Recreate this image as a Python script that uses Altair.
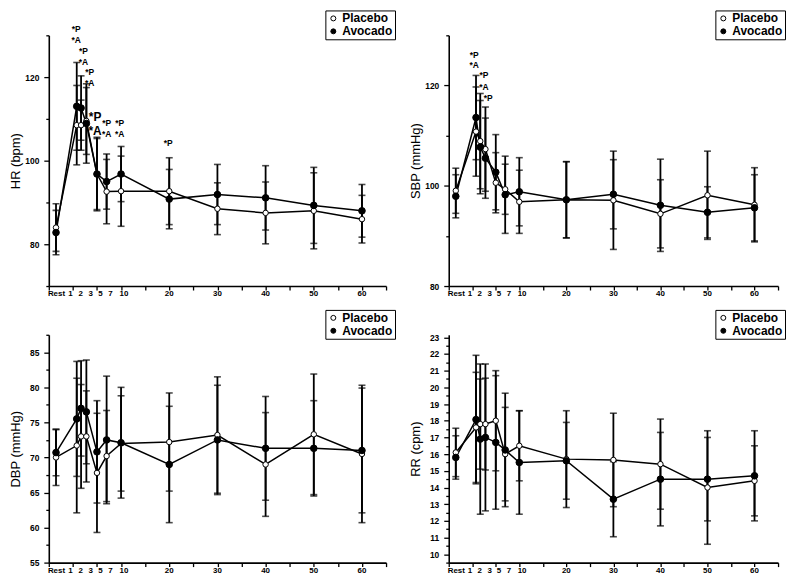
import altair as alt
import pandas as pd

FONT = "Liberation Sans"

# time points (minutes) and the x position used for each
time_labels = ["Rest", "1", "2", "3", "5", "7", "10", "20", "30", "40", "50", "60"]
time_x = [-3.5, 0.8, 1.7, 2.8, 5, 7, 10, 20, 30, 40, 50, 60]
tick_label_x = [-3.4, -0.5, 1.6, 3.7, 5.7, 7.8, 10.6, 20, 30, 40, 50, 60]

# HR (bpm)
hr_p = [84.0, 108.5, 108.5, 109.5, 96.8, 92.6, 92.7, 92.7, 88.5, 87.5, 88.0, 86.0]
hr_p_sd = [5.7, 9.5, 6.0, 8.0, 8.5, 7.7, 8.4, 8.0, 6.2, 7.4, 9.1, 5.7]
hr_a = [82.8, 113.0, 112.6, 108.9, 96.8, 95.0, 96.8, 90.8, 91.9, 91.1, 89.3, 88.0]
hr_a_sd = [5.3, 10.5, 7.7, 9.5, 8.8, 6.6, 6.6, 7.1, 7.2, 7.7, 9.1, 6.3]

# SBP (mmHg)
sbp_p = [99.0, 110.8, 108.9, 107.3, 100.6, 99.3, 96.8, 97.2, 97.1, 94.4, 98.1, 96.2]
sbp_p_sd = [4.5, 8.9, 9.5, 8.4, 6.0, 5.0, 6.3, 7.6, 9.8, 6.8, 8.8, 7.4]
sbp_a = [97.9, 113.6, 107.7, 105.5, 102.7, 98.2, 98.8, 97.2, 98.3, 96.1, 94.7, 95.6]
sbp_a_sd = [4.3, 8.4, 9.3, 8.0, 7.5, 7.7, 6.8, 7.6, 6.9, 9.2, 5.1, 6.6]

# DBP (mmHg)
dbp_p = [70.0, 71.7, 73.0, 73.0, 67.8, 70.2, 72.0, 72.2, 73.2, 69.0, 73.3, 70.5]
dbp_p_sd = [4.0, 9.6, 7.4, 6.5, 8.5, 6.5, 6.8, 7.0, 8.3, 7.4, 8.6, 9.8]
dbp_a = [70.7, 75.5, 77.0, 76.5, 70.8, 72.5, 72.1, 69.0, 72.5, 71.3, 71.3, 71.0]
dbp_a_sd = [3.3, 8.2, 6.8, 7.4, 7.3, 9.1, 7.9, 8.3, 7.8, 7.4, 6.8, 8.9]

# RR (cpm)
rr_p = [16.1, 17.6, 17.8, 17.8, 18.0, 16.0, 16.5, 15.7, 15.65, 15.4, 14.0, 14.4]
rr_p_sd = [1.45, 3.3, 2.7, 2.75, 3.0, 2.8, 2.1, 2.9, 2.8, 2.7, 3.4, 2.1]
rr_a = [15.8, 18.07, 16.9, 17.0, 16.7, 16.25, 15.5, 15.6, 13.3, 14.5, 14.5, 14.7]
rr_a_sd = [1.3, 3.85, 4.5, 4.4, 4.0, 3.4, 3.1, 2.3, 2.25, 2.8, 2.5, 2.7]

# significance annotations
hr_ann_x = [0.7, 0.7, 2.2, 2.2, 3.5, 3.5, 4.6, 4.6, 7.0, 7.0, 9.7, 9.7, 19.8]
hr_ann_y = [131.5, 128.9, 126.3, 123.7, 121.3, 118.6, 110.4, 107.1, 108.9, 106.3, 108.9, 106.3, 104.2]
hr_ann_t = ["*P", "*A"] * 6 + ["*P"]
hr_ann_big = [False] * 6 + [True, True] + [False] * 5

sbp_ann_x = [0.4, 0.4, 2.5, 2.5, 3.4]
sbp_ann_y = [126.1, 124.0, 122.0, 119.6, 117.5]
sbp_ann_t = ["*P", "*A", "*P", "*A", "*P"]
sbp_ann_big = [False] * 5

series_names = ["Placebo", "Avocado"]


def make_panel(title, P, Psd, A, Asd, ydom, yvals, mod, width, height,
               ann=None, legx=278, legy=-25):
    rows = []
    for s, m, sd in ((series_names[0], P, Psd), (series_names[1], A, Asd)):
        for t, x, v, e in zip(time_labels, time_x, m, sd):
            rows.append(dict(series=s, time=t, x=x, mean=v, lo=v - e, hi=v + e))
    df = pd.DataFrame(rows)
    base = alt.Chart(df)

    xs = alt.Scale(domain=[-5, 65], nice=False, zero=False)
    xaxis = alt.Axis(values=list(range(-5, 66, 5)), labels=False, title=None,
                     tickSize=4, grid=False)
    X = alt.X("x:Q", scale=xs, axis=xaxis)

    ys = alt.Scale(domain=ydom, nice=False, zero=False)
    yaxis = alt.Axis(
        values=yvals, title=title, grid=False, format=".0f",
        labelExpr=f"datum.value % {mod} == 0 ? datum.label : ''",
        tickSize={"condition": {"test": f"datum.value % {mod} == 0", "value": 5}, "value": 3},
        titleX=-26, titleY=height / 2,
    )

    rule = base.mark_rule(color="black", strokeWidth=1.8).encode(
        x=X, y=alt.Y("lo:Q", scale=ys, axis=yaxis), y2="hi:Q")
    caps = base.transform_fold(["lo", "hi"], as_=["k", "v"]).mark_tick(
        orient="horizontal", color="black", size=7, thickness=1.6).encode(
        x=X, y=alt.Y("v:Q", scale=ys, axis=yaxis))
    line = base.mark_line(color="black", strokeWidth=1.5).encode(
        x=X, y=alt.Y("mean:Q", scale=ys, axis=yaxis), detail="series:N")

    legend = alt.Legend(
        title=None, orient="none", legendX=legx, legendY=legy,
        strokeColor="black", fillColor="white", padding=2, rowPadding=1,
        labelFont=FONT, labelFontSize=12, labelFontWeight="bold", labelColor="black",
        symbolType="circle", symbolSize=25, symbolStrokeColor="black",
        symbolStrokeWidth=1, labelOffset=3,
    )
    fill = alt.Fill("series:N", scale=alt.Scale(domain=series_names, range=["white", "black"]),
                    legend=legend)
    pts_p = base.transform_filter(alt.datum.series == series_names[0]).mark_point(
        shape="circle", filled=True, size=30, stroke="black", strokeWidth=1, opacity=1).encode(
        x=X, y=alt.Y("mean:Q", scale=ys, axis=yaxis), fill=fill)
    pts_a = base.transform_filter(alt.datum.series == series_names[1]).mark_point(
        shape="circle", filled=True, size=44, stroke="black", strokeWidth=1, opacity=1).encode(
        x=X, y=alt.Y("mean:Q", scale=ys, axis=yaxis), fill=fill)

    labdf = pd.DataFrame({"pos": tick_label_x, "lab": time_labels})
    xlabels = alt.Chart(labdf).mark_text(
        font=FONT, fontSize=8, fontWeight="bold", color="black", baseline="middle").encode(
        x=alt.X("pos:Q", scale=xs, axis=xaxis), y=alt.value(height + 8), text="lab:N")

    layers = [rule, caps, line, pts_p, pts_a, xlabels]
    if ann is not None:
        adf = pd.DataFrame({"x": ann[0], "y": ann[1], "t": ann[2], "big": ann[3]})
        txt = alt.Chart(adf).mark_text(
            font=FONT, fontWeight="bold", color="black", baseline="middle").encode(
            x=alt.X("x:Q", scale=xs, axis=xaxis),
            y=alt.Y("y:Q", scale=ys, axis=yaxis),
            text="t:N",
            size=alt.condition("datum.big", alt.value(12), alt.value(8.5)),
        )
        layers.append(txt)
    return alt.layer(*layers).properties(width=width, height=height)


hr = make_panel("HR (bpm)", hr_p, hr_p_sd, hr_a, hr_a_sd, [70, 130],
                [70, 80, 90, 100, 110, 120, 130], 20, 339, 252,
                ann=(hr_ann_x, hr_ann_y, hr_ann_t, hr_ann_big), legx=278)
sbp = make_panel("SBP (mmHg)", sbp_p, sbp_p_sd, sbp_a, sbp_a_sd, [80, 130],
                 [80, 90, 100, 110, 120, 130], 20, 331, 252,
                 ann=(sbp_ann_x, sbp_ann_y, sbp_ann_t, sbp_ann_big), legx=268)
dbp = make_panel("DBP (mmHg)", dbp_p, dbp_p_sd, dbp_a, dbp_a_sd, [55, 87.5],
                 [55 + 2.5 * i for i in range(14)], 5, 339, 229, legx=278)
rr = make_panel("RR (cpm)", rr_p, rr_p_sd, rr_a, rr_a_sd, [9.5, 23.15],
                [9.5 + 0.5 * i for i in range(28)], 1, 331, 229, legx=268)

res_scale = dict(x="independent", y="independent", fill="independent")
top = alt.hconcat(hr, sbp, spacing=14).resolve_scale(**res_scale).resolve_legend(fill="independent")
bottom = alt.hconcat(dbp, rr, spacing=14).resolve_scale(**res_scale).resolve_legend(fill="independent")

chart = alt.vconcat(top, bottom, spacing=11).resolve_scale(**res_scale).resolve_legend(
    fill="independent").properties(
    padding={"left": 2, "top": 0, "right": 0, "bottom": 0},
    background="white",
).configure_view(stroke=None).configure_axis(
    domainColor="black", domainWidth=1.6, tickColor="black", tickWidth=1.3,
    labelFont=FONT, labelFontSize=8.5, labelFontWeight="bold", labelColor="black",
    labelPadding=5, titleFont=FONT, titleFontSize=13, titleFontWeight="normal",
    titleColor="black",
)

chart.save("out.html", embed_options={"renderer": "svg", "actions": False})
